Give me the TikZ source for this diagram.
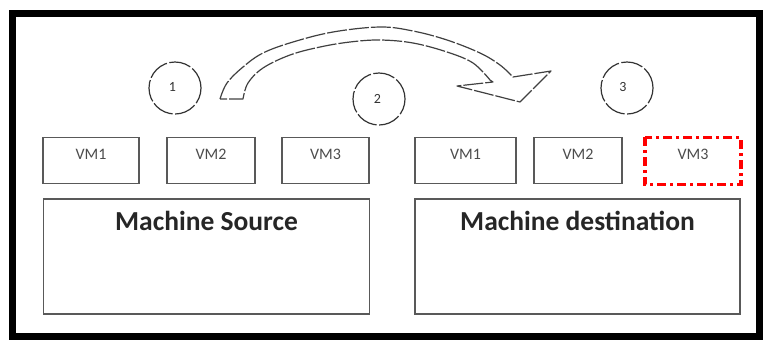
\documentclass[tikz,border=0pt]{standalone}
\usepackage{fontspec}
\setmainfont{Carlito}
\begin{document}
\begin{tikzpicture}[x=1pt,y=-1pt,
  vmbox/.style={draw=black!65,line width=1.4pt,minimum width=96pt,minimum height=46pt,
    inner sep=0pt,text height=11pt,text depth=14pt,font=\fontsize{16}{16}\selectfont,text=black!70},
  hostbox/.style={draw=black!65,line width=1.4pt,minimum width=326pt,minimum height=115pt,
    inner sep=0pt,text height=19pt,text depth=72pt,font=\fontsize{27.5}{27.5}\selectfont\bfseries,text=black!85},
  stepcircle/.style={circle,draw=black!80,line width=1.2pt,minimum size=52pt,inner sep=0pt,
    dash pattern=on 22pt off 2.5pt,font=\fontsize{14}{14}\selectfont,text=black!80},
  moved/.style={draw=red,line width=3.5pt,dash pattern=on 9pt off 4pt on 3pt off 4pt},
  flow/.style={draw=black!75,line width=1.2pt,dash pattern=on 20pt off 2pt,line join=round}]
\useasboundingbox (0,0) rectangle (763,341);
% outer frame
\draw[line width=7pt] (12,13.5) rectangle (759.5,336.5);

% source host and its VMs
\node[vmbox] (s1) at (91,160.5) {VM1};
\node[vmbox,minimum width=88pt] (s2) at (211,160.5) {VM2};
\node[vmbox,minimum width=87pt] (s3) at (325.5,160.5) {VM3};
\node[hostbox] (src) at (206.5,256.5) {Machine Source};

% destination host and its VMs
\node[vmbox,minimum width=101pt] (d1) at (465.5,160.5) {VM1};
\node[vmbox,minimum width=88pt] (d2) at (578,160.5) {VM2};
\node[vmbox,minimum width=95pt,draw=none] (d3) at (693,161) {VM3};
\draw[moved] (d3.north west) rectangle (d3.south east);
\node[hostbox,minimum width=325pt] (dst) at (577.5,256.5) {Machine destination};

% migration steps
\node[stepcircle] (c1) at (175,88) {\raisebox{2pt}{\hspace*{-5pt}1}};
\node[stepcircle] (c2) at (379,99) {\hspace*{-3pt}2};
\node[stepcircle] (c3) at (627,88) {\raisebox{2pt}{\hspace*{-8pt}3}};

% curved block arrow from source to destination
\draw[flow] plot[smooth,tension=0.6] coordinates {(220,99) (227,83) (243,67) (263,53) (293,42) (333,32) (380,27) (413,31) (447,40) (480,53) (500,65) (513,77)}
  -- (551,71) -- (520,102) -- (457,86) -- (493,82)
  -- plot[smooth,tension=0.6] coordinates {(490,80) (473,63) (447,52) (413,43) (380,40) (350,42) (320,47) (290,55) (263,68) (248,83) (243,99)}
  -- cycle;
\end{tikzpicture}
\end{document}
